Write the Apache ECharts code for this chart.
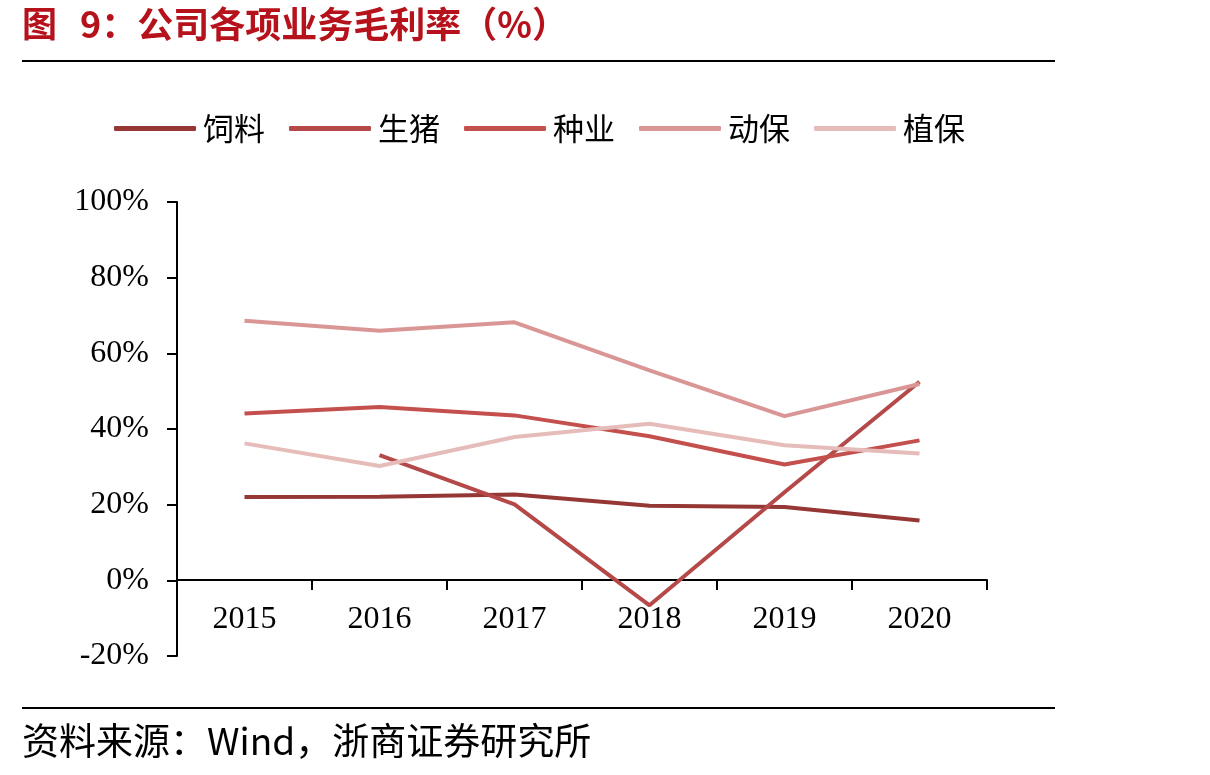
<!DOCTYPE html>
<html>
<head>
<meta charset="utf-8">
<script src="https://cdn.jsdelivr.net/npm/echarts@6/dist/echarts.min.js"></script>
<style>
  html, body { margin: 0; padding: 0; background: #fff; }
  #main { width: 1210px; height: 775px; }
</style>
</head>
<body>
<div id="main"></div>
<script>
// 数据
var years = ['2015', '2016', '2017', '2018', '2019', '2020'];
var siliao = [22.0, 22.1, 22.7, 19.7, 19.4, 15.8];
var shengzhu = ['-', 33.1, 20.1, -6.6, 23.3, 52.5];
var zhongye = [44.1, 45.8, 43.6, 38.1, 30.6, 37.0];
var dongbao = [68.6, 66.0, 68.2, 55.5, 43.4, 51.9];
var zhibao = [36.2, 30.2, 37.9, 41.4, 35.7, 33.5];
var yTicks = [-20, 0, 20, 40, 60, 80, 100];

var serifFont = '"Liberation Serif", "Times New Roman", serif';
var cjkFont = '"Noto Sans CJK SC", sans-serif';

function mkLine(name, data, color) {
  return {
    name: name,
    type: 'line',
    data: data,
    symbol: 'none',
    lineStyle: { color: color, width: 4 },
    itemStyle: { color: color }
  };
}

var chart = echarts.init(document.getElementById('main'));
var option = {
  animation: false,
  backgroundColor: '#fff',
  graphic: [
    { type: 'text', left: 22, top: 6,
      style: { text: '图', fill: '#B5121B', font: 'bold 35px ' + cjkFont } },
    { type: 'text', left: 80, top: 6,
      style: { text: '9：公司各项业务毛利率（%）', fill: '#B5121B', font: 'bold 36px ' + cjkFont } },
    { type: 'line', shape: { x1: 22, y1: 61, x2: 1055, y2: 61 }, style: { stroke: '#000', lineWidth: 2 } },
    { type: 'line', shape: { x1: 22, y1: 708, x2: 1055, y2: 708 }, style: { stroke: '#000', lineWidth: 2 } },
    { type: 'text', left: 22, top: 722,
      style: { text: '资料来源：Wind，浙商证券研究所', fill: '#000', font: '37px ' + cjkFont } }
  ],
  legend: {
    top: 108,
    left: 109,
    itemWidth: 82,
    itemHeight: 5,
    itemGap: 24,
    icon: 'roundRect',
    textStyle: { fontFamily: cjkFont, fontSize: 31, color: '#000', padding: [0, 0, 0, 2] },
    data: ['饲料', '生猪', '种业', '动保', '植保']
  },
  grid: { left: 177, right: 223, top: 202, bottom: 119, containLabel: false },
  xAxis: {
    type: 'category',
    data: years,
    boundaryGap: true,
    offset: -76,
    axisLine: { show: true, onZero: false, lineStyle: { color: '#000', width: 2 } },
    axisTick: { show: true, length: 10, lineStyle: { color: '#000', width: 2 } },
    axisLabel: { color: '#000', fontFamily: serifFont, fontSize: 32, margin: 24 }
  },
  yAxis: {
    type: 'value',
    min: yTicks[0],
    max: yTicks[yTicks.length - 1],
    interval: 20,
    axisLine: { show: true, lineStyle: { color: '#000', width: 2 } },
    axisTick: { show: true, length: 10, lineStyle: { color: '#000', width: 2 } },
    splitLine: { show: false },
    axisLabel: { color: '#000', fontFamily: serifFont, fontSize: 32, margin: 28, formatter: '{value}%' }
  },
  series: [
    mkLine('饲料', siliao, '#953735'),
    mkLine('生猪', shengzhu, '#B5494A'),
    mkLine('种业', zhongye, '#C4504D'),
    mkLine('动保', dongbao, '#D99694'),
    mkLine('植保', zhibao, '#E6BCBB')
  ]
};
chart.setOption(option);
</script>
</body>
</html>
